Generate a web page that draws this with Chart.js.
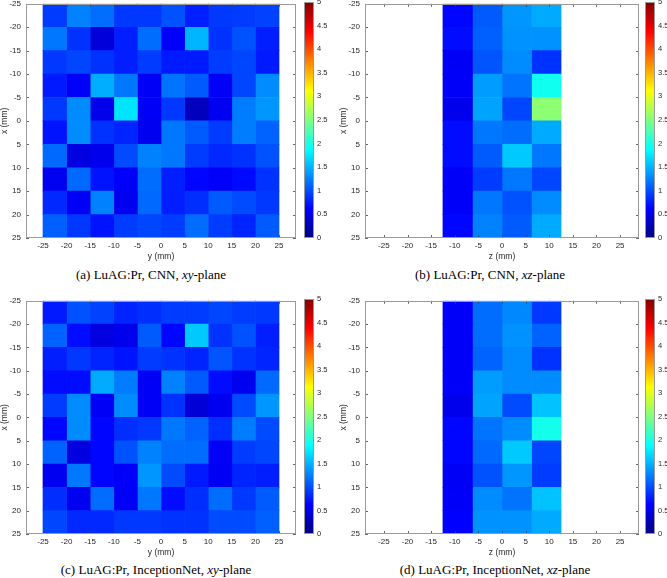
<!DOCTYPE html>
<html>
<head>
<meta charset="utf-8">
<script src="https://cdn.jsdelivr.net/npm/chart.js@4.4.1/dist/chart.umd.min.js"></script>
<style>
body { margin: 0; width: 667px; height: 578px; background: #ffffff; position: relative; overflow: hidden; }
canvas { position: absolute; }
.caption { position: absolute; font-family: "Liberation Serif", serif; font-size: 13px; line-height: 16px; text-align: center; color: #000000; white-space: nowrap; }
</style>
</head>
<body>
<div class="caption" style="left:0px; top:267px; width:302px;">(a) LuAG:Pr, CNN, <i>xy</i>-plane</div>
<div class="caption" style="left:337px; top:267px; width:306px;">(b) LuAG:Pr, CNN, <i>xz</i>-plane</div>
<div class="caption" style="left:0px; top:562px; width:312px;">(c) LuAG:Pr, InceptionNet, <i>xy</i>-plane</div>
<div class="caption" style="left:337px; top:562px; width:316px;">(d) LuAG:Pr, InceptionNet, <i>xz</i>-plane</div>
<script>
// axis ticks (mm) and colour scale
const mmTicks = [-25, -20, -15, -10, -5, 0, 5, 10, 15, 20, 25];
const colorTicks = [0, 0.5, 1, 1.5, 2, 2.5, 3, 3.5, 4, 4.5, 5];
const colorMin = 0;
const colorMax = 5;

// rows: x (mm) bin centres, top to bottom
const rowCenters = [-22.5, -17.5, -12.5, -7.5, -2.5, 2.5, 7.5, 12.5, 17.5, 22.5];
// column bin edges: y (mm) for xy-plane, z (mm) for xz-plane
const xyColEdges = [-25, -20, -15, -10, -5, 0, 5, 10, 15, 20, 25];
const xzColEdges = [-12.5, -6.25, 0, 6.25, 12.5];

// (a) CNN, xy-plane  [row x][col y]
const cnnXY = [
	[0.92, 1.26, 1.16, 0.90, 0.90, 1.02, 0.77, 0.90, 0.92, 0.95],
	[1.21, 0.87, 0.45, 0.77, 1.16, 0.60, 1.51, 0.87, 1.02, 0.77],
	[0.90, 0.97, 0.87, 0.77, 0.92, 0.75, 0.75, 0.92, 0.97, 0.75],
	[0.75, 0.60, 1.48, 1.21, 0.58, 1.19, 1.07, 0.58, 0.97, 1.31],
	[0.90, 1.31, 0.53, 1.75, 0.58, 0.90, 0.30, 0.55, 1.24, 1.36],
	[0.72, 1.31, 0.87, 0.80, 0.55, 1.21, 1.07, 0.92, 1.24, 1.11],
	[1.14, 0.48, 0.53, 0.99, 1.26, 1.21, 0.92, 0.82, 0.87, 1.02],
	[0.55, 1.14, 0.72, 0.60, 1.16, 0.77, 0.65, 0.60, 0.67, 0.87],
	[0.82, 0.58, 1.26, 0.55, 1.14, 0.77, 0.85, 1.07, 0.99, 0.90],
	[1.09, 0.90, 0.72, 0.92, 0.97, 0.92, 1.16, 0.92, 0.80, 1.07]
];

// (b) CNN, xz-plane  [row x][col z]
const cnnXZ = [
	[0.65, 1.07, 1.36, 1.46],
	[0.68, 1.09, 1.34, 1.34],
	[0.58, 1.04, 1.31, 0.87],
	[0.60, 1.39, 1.19, 1.95],
	[0.53, 1.43, 0.97, 2.56],
	[0.68, 1.21, 1.16, 1.46],
	[0.68, 1.07, 1.61, 1.21],
	[0.60, 0.92, 1.21, 0.97],
	[0.60, 1.21, 1.02, 1.31],
	[0.65, 1.26, 1.07, 1.46]
];

// (c) InceptionNet, xy-plane
const inceptionXY = [
	[0.75, 1.02, 0.95, 0.80, 0.85, 0.92, 0.92, 0.97, 0.92, 0.90],
	[1.11, 0.68, 0.48, 0.53, 1.07, 0.65, 1.61, 0.87, 1.02, 0.77],
	[0.77, 0.90, 0.80, 0.72, 0.92, 0.87, 0.80, 1.04, 0.87, 0.80],
	[0.68, 0.68, 1.46, 1.24, 0.58, 1.26, 1.07, 0.68, 0.55, 1.14],
	[0.92, 1.31, 0.58, 1.31, 0.58, 0.87, 0.43, 0.55, 0.99, 1.36],
	[0.65, 1.31, 0.65, 0.85, 0.90, 1.21, 1.11, 0.85, 1.24, 0.99],
	[1.11, 0.48, 0.65, 1.02, 1.26, 1.16, 1.16, 0.58, 0.92, 0.97],
	[0.55, 1.21, 0.65, 0.60, 1.36, 0.99, 0.75, 0.57, 0.80, 0.77],
	[0.85, 0.55, 1.16, 0.58, 1.21, 0.68, 0.85, 1.16, 0.90, 1.07],
	[0.97, 0.82, 0.82, 0.90, 0.90, 0.87, 0.87, 0.99, 0.99, 1.09]
];

// (d) InceptionNet, xz-plane
const inceptionXZ = [
	[0.60, 1.16, 1.29, 0.90],
	[0.60, 1.16, 1.34, 1.11],
	[0.60, 1.11, 1.31, 0.87],
	[0.60, 1.39, 1.31, 1.31],
	[0.53, 1.43, 0.99, 1.58],
	[0.65, 1.19, 1.31, 1.97],
	[0.65, 1.14, 1.61, 0.97],
	[0.58, 1.02, 1.36, 0.92],
	[0.60, 1.31, 1.19, 1.58],
	[0.62, 1.34, 1.34, 1.46]
];

const AXIS_W = 26;
const AXIS_H = 24;
const PAD_T = 8;
const PAD_R = 4;
const BAR_W = 10;
const BAR_LABEL_W = 18;
const tickFont = { family: "'Liberation Sans', Arial, sans-serif", size: 8 };
const titleFont = { family: "'Liberation Sans', Arial, sans-serif", size: 8.5 };
const textColor = "#262626";

const panels = [
	{ values: cnnXY,       edges: xyColEdges, title: "y (mm)", range: 28.6, left: 26,  top: 2,   right: 296, bottom: 238, barLeft: 304 },
	{ values: cnnXZ,       edges: xzColEdges, title: "z (mm)", range: 29,   left: 365, top: 2,   right: 639, bottom: 238, barLeft: 645 },
	{ values: inceptionXY, edges: xyColEdges, title: "y (mm)", range: 28.6, left: 26,  top: 299, right: 296, bottom: 534, barLeft: 304 },
	{ values: inceptionXZ, edges: xzColEdges, title: "z (mm)", range: 29,   left: 365, top: 299, right: 639, bottom: 534, barLeft: 645 }
];

// MATLAB jet
function jet(v)
{
	let t = (v - colorMin) / (colorMax - colorMin);
	t = Math.min(1, Math.max(0, t));
	const c = k => Math.round(255 * Math.min(1, Math.max(0, 1.5 - Math.abs(4 * t - k))));
	return "rgb(" + c(3) + "," + c(2) + "," + c(1) + ")";
}

// axes box and inward tick marks
const frame = {
	id: "frame",
	afterDatasetsDraw(chart, args, opts)
	{
		const ctx = chart.ctx;
		const a = chart.chartArea;
		ctx.save();
		if(opts.ticks)
		{
			ctx.strokeStyle = "#404040";
			ctx.lineWidth = 0.8;
			ctx.beginPath();
			const xs = chart.scales.x;
			for(let i = 0; i < xs.ticks.length; i++)
			{
				const px = Math.round(xs.getPixelForTick(i)) + 0.5;
				ctx.moveTo(px, a.bottom); ctx.lineTo(px, a.bottom - 3);
				ctx.moveTo(px, a.top); ctx.lineTo(px, a.top + 3);
			}
			const ys = chart.scales.y;
			for(let i = 0; i < ys.ticks.length; i++)
			{
				const py = Math.round(ys.getPixelForTick(i)) + 0.5;
				ctx.moveTo(a.left, py); ctx.lineTo(a.left + 3, py);
				ctx.moveTo(a.right, py); ctx.lineTo(a.right - 3, py);
			}
			ctx.stroke();
		}
		ctx.strokeStyle = "#9a9a9a";
		ctx.lineWidth = 1;
		ctx.strokeRect(Math.round(a.left) + 0.5, Math.round(a.top) + 0.5, Math.round(a.width) - 1, Math.round(a.height) - 1);
		ctx.restore();
	}
};

function addCanvas(left, top, width, height)
{
	const canvas = document.createElement("canvas");
	canvas.width = width;
	canvas.height = height;
	canvas.style.left = left + "px";
	canvas.style.top = top + "px";
	canvas.style.width = width + "px";
	canvas.style.height = height + "px";
	document.body.appendChild(canvas);
	return canvas;
}

function makeMap(panel)
{
	const canvas = addCanvas(panel.left - AXIS_W, panel.top - PAD_T,
		panel.right - panel.left + AXIS_W + PAD_R,
		PAD_T + panel.bottom - panel.top + AXIS_H);

	// one dataset per column, each cell a floating horizontal bar
	const datasets = [];
	for(let j = 0; j < panel.edges.length - 1; j++)
	{
		datasets.push({
			data: rowCenters.map(x => ({ y: x, x: [panel.edges[j], panel.edges[j + 1]] })),
			backgroundColor: panel.values.map(row => jet(row[j])),
			borderWidth: 0,
			grouped: false,
			barPercentage: 1,
			categoryPercentage: 1
		});
	}

	new Chart(canvas, {
		type: "bar",
		data: { datasets: datasets },
		options: {
			indexAxis: "y",
			responsive: false,
			animation: false,
			devicePixelRatio: 1,
			layout: { padding: { top: PAD_T, right: PAD_R, left: 0, bottom: 0 } },
			plugins: { legend: { display: false }, tooltip: { enabled: false }, frame: { ticks: true } },
			scales: {
				x: {
					type: "linear",
					min: -panel.range,
					max: panel.range,
					grid: { display: false, drawTicks: false },
					border: { display: false },
					afterBuildTicks: s => { s.ticks = mmTicks.map(v => ({ value: v })); },
					afterFit: s => { s.height = AXIS_H; },
					ticks: { autoSkip: false, maxRotation: 0, padding: 3, font: tickFont, color: textColor, callback: v => String(v) },
					title: { display: true, text: panel.title, font: titleFont, color: textColor, padding: 0 }
				},
				y: {
					type: "linear",
					reverse: true,
					min: -25,
					max: 25,
					offset: false,
					grid: { display: false, drawTicks: false, offset: false },
					border: { display: false },
					afterBuildTicks: s => { s.ticks = mmTicks.map(v => ({ value: v })); },
					afterFit: s => { s.width = AXIS_W; },
					ticks: { autoSkip: false, padding: 5, font: tickFont, color: textColor, callback: v => String(v) },
					title: { display: true, text: "x (mm)", font: titleFont, color: textColor, padding: 0 }
				}
			}
		},
		plugins: [frame]
	});
}

function makeColorBar(panel)
{
	const canvas = addCanvas(panel.barLeft, panel.top - PAD_T,
		BAR_W + BAR_LABEL_W, PAD_T + panel.bottom - panel.top + PAD_T);

	new Chart(canvas, {
		type: "bar",
		data: {
			labels: [""],
			datasets: [{
				data: [[colorMin, colorMax]],
				backgroundColor: c =>
				{
					const chart = c.chart;
					if(!chart.chartArea)
						return jet(colorMin);
					const ys = chart.scales.y;
					const g = chart.ctx.createLinearGradient(0, ys.getPixelForValue(colorMin), 0, ys.getPixelForValue(colorMax));
					for(let k = 0; k <= 40; k++)
						g.addColorStop(k / 40, jet(colorMin + (colorMax - colorMin) * k / 40));
					return g;
				},
				borderWidth: 0,
				barPercentage: 1,
				categoryPercentage: 1
			}]
		},
		options: {
			responsive: false,
			animation: false,
			devicePixelRatio: 1,
			layout: { padding: { top: PAD_T, bottom: PAD_T, left: 0, right: 0 } },
			plugins: { legend: { display: false }, tooltip: { enabled: false }, frame: { ticks: false } },
			scales: {
				x: { display: false },
				y: {
					position: "right",
					min: colorMin,
					max: colorMax,
					grid: { display: false, drawTicks: false },
					border: { display: false },
					afterBuildTicks: s => { s.ticks = colorTicks.map(v => ({ value: v })); },
					afterFit: s => { s.width = BAR_LABEL_W; },
					ticks: { autoSkip: false, padding: 3, font: { family: tickFont.family, size: 7.5 }, color: textColor, callback: v => String(v) }
				}
			}
		},
		plugins: [frame]
	});
}

for(const panel of panels)
{
	makeMap(panel);
	makeColorBar(panel);
}
</script>
</body>
</html>
